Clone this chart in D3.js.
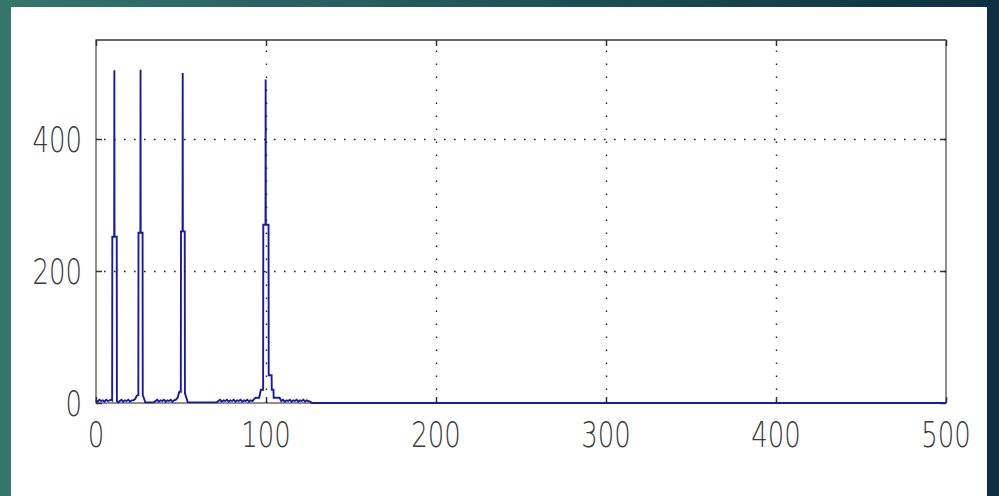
<!DOCTYPE html>
<html>
<head>
<meta charset="utf-8">
<script src="https://cdn.jsdelivr.net/npm/d3@7"></script>
<style>
	body { margin: 0; overflow: hidden; }
	.tick-label { font-family: 'DejaVu Sans', sans-serif; font-weight: 200; font-size: 36px; fill: #3a3a3a; }
	.grid line { stroke: #222; stroke-width: 1.4; }
	.grid path { display: none; }
	.spectrum { fill: none; stroke: #1a1aa4; stroke-width: 1.9; stroke-linejoin: miter; }
</style>
</head>
<body>
<div class="svg-container"></div>
<script>
// spectrum (frequency, magnitude)
var freqHz = [
	0, 1, 2, 3, 4, 5, 6, 7, 8, 9, 9.5,
	9.6, 10.7, 10.8, 10.9, 12.2, 12.3, 13,
	14, 15, 16, 17, 18, 19, 20, 21, 22, 23, 24, 24.9,
	25, 26.1, 26.2, 26.3, 27.4, 27.5, 28.5, 29, 34,
	35, 36, 37, 38, 39, 40, 41, 42, 43, 44, 45, 46, 47, 48, 49, 49.9,
	50, 50.9, 51, 51.1, 52.2, 52.3, 53.5, 54, 71,
	72, 73, 74, 75, 76, 77, 78, 79, 80, 81, 82, 83, 84, 85, 86, 87, 88, 89, 90, 91, 92, 93,
	94, 96, 97, 98.3,
	98.4, 99.7, 99.8, 99.9, 101.5, 101.6, 103.3, 103.4, 104.4, 104.5, 106, 108,
	109, 110, 111, 112, 113, 114, 115, 116, 117, 118, 119, 120, 121, 122, 123, 124, 125, 126,
	127, 500
];
var magnitude = [
	4, 2, 5, 3, 4, 2, 5, 3, 4, 5, 4,
	252, 252, 504, 252, 252, 3, 1,
	3, 5, 2, 4, 3, 5, 2, 4, 4, 6, 11, 12,
	258, 258, 505, 258, 258, 12, 5, 1, 1,
	3, 5, 2, 4, 3, 5, 2, 4, 3, 5, 2, 4, 5, 8, 17, 17,
	260, 260, 500, 260, 260, 15, 5, 1, 1,
	3, 5, 2, 4, 3, 5, 2, 4, 3, 5, 2, 4, 3, 5, 2, 4, 3, 5, 2, 4, 3, 6,
	8, 8, 20, 20,
	270, 270, 490, 270, 270, 42, 42, 20, 20, 8, 8, 8,
	3, 5, 2, 4, 3, 5, 2, 4, 3, 5, 2, 4, 3, 5, 2, 4, 3, 2,
	0, 0
];
var xTicks = [0, 100, 200, 300, 400, 500];
var yTicks = [0, 200, 400];

var width = 999, height = 496;
var plotLeft = 96, plotRight = 946, plotTop = 40, plotBottom = 403;

var svg = d3.select('.svg-container')
	.append('svg')
	.attr('width', width)
	.attr('height', height);

var bg = svg.append('defs').append('linearGradient')
	.attr('id', 'bg')
	.attr('x1', '0%').attr('x2', '100%')
	.attr('y1', '0%').attr('y2', '0%');
bg.append('stop').attr('offset', '0%').attr('stop-color', '#35766c');
bg.append('stop').attr('offset', '55%').attr('stop-color', '#1f5158');
bg.append('stop').attr('offset', '100%').attr('stop-color', '#0d2f42');

svg.append('rect')
	.attr('width', width)
	.attr('height', height)
	.attr('fill', 'url(#bg)');

svg.append('rect')
	.attr('x', 11)
	.attr('y', 7)
	.attr('width', 976)
	.attr('height', height - 7)
	.attr('fill', '#ffffff');

var xScale = d3.scaleLinear()
	.domain([0, 500])
	.range([plotLeft, plotRight]);

var yScale = d3.scaleLinear()
	.domain([0, 550])
	.range([plotBottom, plotTop]);

// frame
svg.append('rect')
	.attr('x', plotLeft)
	.attr('y', plotTop)
	.attr('width', plotRight - plotLeft)
	.attr('height', plotBottom - plotTop)
	.attr('fill', 'none')
	.attr('stroke', '#555')
	.attr('stroke-width', 1.3);

svg.append('line')
	.attr('x1', plotLeft).attr('x2', plotRight)
	.attr('y1', plotTop).attr('y2', plotTop)
	.attr('stroke', '#666')
	.attr('stroke-width', 2.2);

// inward ticks on all four sides
var tickLen = 6;
[
	{ axis: d3.axisBottom(xScale).tickValues(xTicks), t: 'translate(0, ' + plotBottom + ')' },
	{ axis: d3.axisTop(xScale).tickValues(xTicks), t: 'translate(0, ' + plotTop + ')' },
	{ axis: d3.axisLeft(yScale).tickValues(yTicks), t: 'translate(' + plotLeft + ', 0)' },
	{ axis: d3.axisRight(yScale).tickValues(yTicks), t: 'translate(' + plotRight + ', 0)' }
].forEach(function(a) {
	var g = svg.append('g')
		.attr('transform', a.t)
		.call(a.axis.tickSize(-tickLen).tickFormat(''));
	g.select('.domain').remove();
	g.selectAll('line').attr('stroke', '#333').attr('stroke-width', 1.5);
});

var line = d3.line()
	.x(function(d, i) {
		return xScale(freqHz[i]);
	})
	.y(function(d) {
		return yScale(d);
	});

svg.append('path')
	.datum(magnitude)
	.attr('class', 'spectrum')
	.attr('d', line);

// dotted grid, drawn over the trace
svg.append('g')
	.attr('class', 'grid')
	.attr('transform', 'translate(0, ' + plotBottom + ')')
	.call(d3.axisBottom(xScale).tickValues(xTicks.slice(1, -1)).tickSize(-(plotBottom - plotTop)).tickFormat(''))
	.selectAll('line')
	.attr('stroke-dasharray', '1.6,11.4');

svg.append('g')
	.attr('class', 'grid')
	.attr('transform', 'translate(' + plotLeft + ', 0)')
	.call(d3.axisLeft(yScale).tickValues(yTicks.slice(1)).tickSize(-(plotRight - plotLeft)).tickFormat(''))
	.selectAll('line')
	.attr('stroke-dasharray', '1.6,8.4')
	.attr('stroke-dashoffset', -8);

// tick labels (tall, narrow digits)
svg.selectAll('.x-label')
	.data(xTicks)
	.enter()
	.append('text')
	.attr('class', 'tick-label x-label')
	.attr('text-anchor', 'middle')
	.attr('transform', function(d) {
		return 'translate(' + xScale(d) + ', 447) scale(0.72, 1)';
	})
	.text(function(d) {
		return d;
	});

svg.selectAll('.y-label')
	.data(yTicks)
	.enter()
	.append('text')
	.attr('class', 'tick-label y-label')
	.attr('text-anchor', 'end')
	.attr('transform', function(d) {
		return 'translate(82, ' + (yScale(d) + 13) + ') scale(0.72, 1)';
	})
	.text(function(d) {
		return d;
	});
</script>
</body>
</html>
